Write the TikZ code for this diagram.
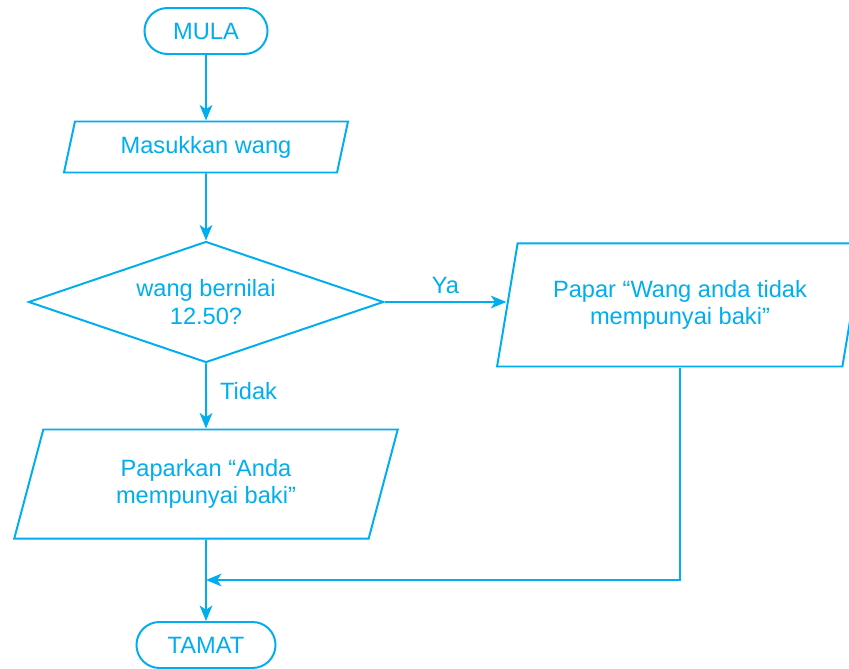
\documentclass[tikz,border=0pt]{standalone}
\usepackage{fontspec}
\setmainfont{Liberation Sans}
\usepackage{tikz}
\usetikzlibrary{arrows.meta,positioning,shapes.geometric}
\definecolor{flowblue}{RGB}{0,174,239}
\tikzset{
  terminal/.style={draw=flowblue,text=flowblue,line width=1.4pt,rectangle,rounded corners=0.575cm,minimum height=1.15cm,inner sep=0pt},
  io/.style={draw=flowblue,text=flowblue,line width=1.4pt,trapezium,trapezium left angle=72,trapezium right angle=108,trapezium stretches=true,inner sep=0pt,align=center},
  decision/.style={draw=flowblue,text=flowblue,line width=1.4pt,diamond,aspect=2.93,inner sep=0pt,align=center},
  arr/.style={-{Stealth[length=11pt,width=9pt,inset=3pt]},draw=flowblue,line width=1.4pt},
  lbl/.style={text=flowblue}
}
\begin{document}
\begin{tikzpicture}[x=0.025cm,y=-0.025cm,font=\fontsize{16.8}{19.5}\selectfont]
        \useasboundingbox (0,0) rectangle (849,669);
        \clip (0,0) rectangle (849,669);
        % start and input
        \node[terminal,minimum width=3.075cm] (mula) at (206,31) {MULA};
        \node[io,minimum width=7.1cm,minimum height=1.275cm] (wang) at (206,147) {Masukkan wang};
        % decision
        \node[decision,minimum width=8.875cm,minimum height=3.025cm] (semak) at (206,302) {wang bernilai\\12.50?};
        % outputs
        \node[io,minimum width=9.15cm,minimum height=3.075cm] (paparya) at (680,305) {Papar “Wang anda tidak\\mempunyai baki”};
        \node[io,minimum width=9.6cm,minimum height=2.725cm] (papartidak) at (206,484) {Paparkan “Anda\\mempunyai baki”};
        % end
        \node[terminal,minimum width=3.475cm] (tamat) at (206,645) {TAMAT};
        \coordinate (gabung) at (206,580);
        % connectors
        \draw[arr] (mula) -- (wang);
        \draw[arr] (wang) -- (semak);
        \draw[arr] (semak.east) -- node[lbl,above=2pt]{Ya} (semak.east -| paparya.west);
        \draw[arr] (semak) -- node[lbl,right=6pt,pos=0.42]{Tidak} (papartidak);
        \draw[arr] (papartidak) -- (tamat);
        \draw[arr] (paparya.south) |- (gabung);
      \end{tikzpicture}
\end{document}
